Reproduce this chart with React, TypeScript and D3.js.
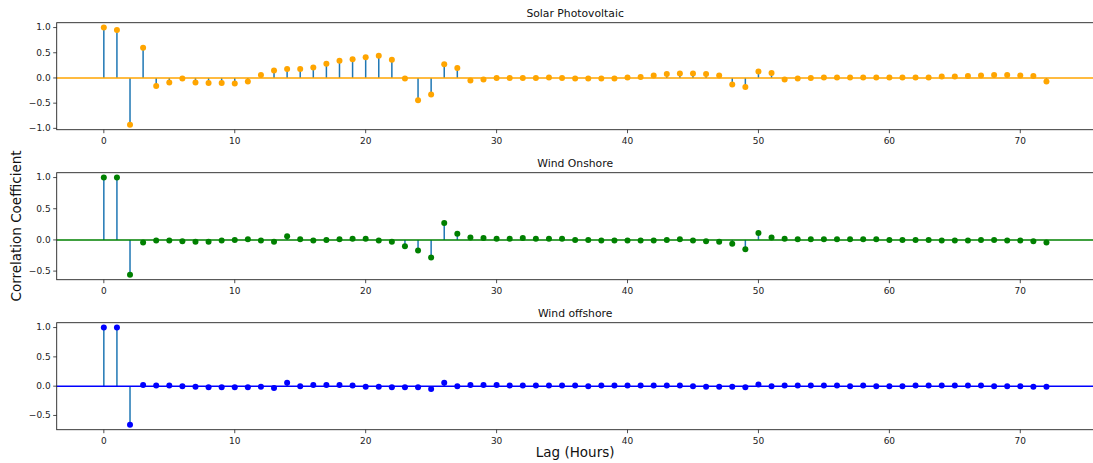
import * as d3 from 'd3'

const lags = d3.range(0, 73)

const titles = ['Solar Photovoltaic', 'Wind Onshore', 'Wind offshore']
const markerColors = ['orange', 'green', 'blue']

const solar = [
  1.0, 0.95, -0.93, 0.6, -0.16, -0.09, -0.01, -0.09, -0.1, -0.1,
  -0.11, -0.07, 0.06, 0.15, 0.18, 0.18, 0.21, 0.28, 0.34, 0.37,
  0.41, 0.44, 0.36, -0.01, -0.44, -0.33, 0.27, 0.2, -0.05, -0.03,
  0.0, 0.0, 0.0, 0.0, 0.01, 0.0, -0.01, -0.01, -0.01, -0.01,
  0.01, 0.02, 0.05, 0.08, 0.09, 0.09, 0.08, 0.05, -0.13, -0.18,
  0.13, 0.1, -0.03, -0.01, 0.0, 0.01, 0.01, 0.01, 0.01, 0.01,
  0.01, 0.01, 0.01, 0.01, 0.03, 0.03, 0.04, 0.05, 0.06, 0.06,
  0.05, 0.04, -0.07,
]

const onshore = [
  1.0, 1.0, -0.56, -0.04, -0.01, -0.01, -0.02, -0.03, -0.03, -0.01,
  0.0, 0.01, -0.01, -0.03, 0.06, 0.01, -0.01, 0.0, 0.01, 0.02,
  0.02, -0.01, -0.03, -0.1, -0.17, -0.28, 0.27, 0.1, 0.04, 0.03,
  0.02, 0.02, 0.03, 0.02, 0.02, 0.02, 0.0, 0.0, -0.01, -0.01,
  -0.01, -0.01, -0.01, 0.0, 0.01, -0.01, -0.02, -0.03, -0.06, -0.15,
  0.11, 0.04, 0.02, 0.01, 0.01, 0.01, 0.01, 0.01, 0.01, 0.01,
  0.0, 0.0, 0.0, 0.0, -0.01, -0.01, -0.01, 0.0, 0.0, -0.01,
  -0.01, -0.02, -0.04,
]

const offshore = [
  1.0, 1.0, -0.66, 0.02, 0.01, 0.01, 0.0, -0.01, -0.02, -0.02,
  -0.02, -0.02, -0.01, -0.03, 0.06, 0.0, 0.02, 0.02, 0.02, 0.01,
  -0.01, -0.01, -0.02, -0.02, -0.02, -0.05, 0.06, 0.0, 0.02, 0.02,
  0.02, 0.01, 0.01, 0.01, 0.01, 0.01, 0.01, 0.0, 0.01, 0.01,
  0.01, 0.01, 0.01, 0.01, 0.01, 0.0, -0.01, -0.01, -0.01, -0.02,
  0.03, 0.0, 0.01, 0.01, 0.01, 0.01, 0.01, 0.0, 0.01, 0.0,
  0.0, 0.0, 0.01, 0.01, 0.01, 0.01, 0.01, 0.01, 0.0, 0.0,
  0.0, -0.01, -0.01,
]

const series = [solar, onshore, offshore]
const xTicks = [0, 10, 20, 30, 40, 50, 60, 70]
const yTicks = [
  [-1.0, -0.5, 0.0, 0.5, 1.0],
  [-0.5, 0.0, 0.5, 1.0],
  [-0.5, 0.0, 0.5, 1.0],
]

const width = 1093
const height = 463
const left = 56.7
const right = 1093.6
const panelTops = [22.7, 172.7, 322.7]
const panelH = 107
const stemColor = '#1f77b4'
const font = 'DejaVu Sans, sans-serif'

// matplotlib style 5% margins
const pad = (lo: number, hi: number): [number, number] => {
  const m = (hi - lo) * 0.05
  return [lo - m, hi + m]
}

const fmt = (v: number) => v.toFixed(1).replace('-', '\u2212')

function Panel({ idx }: { idx: number }) {
  const data = series[idx]
  const top = panelTops[idx]
  const x = d3.scaleLinear(pad(0, 72), [left, right])
  const ext = d3.extent(data) as [number, number]
  const y = d3.scaleLinear(pad(ext[0], ext[1]), [top + panelH, top])
  const color = markerColors[idx]
  return (
    <g>
      <text
        x={(left + right) / 2}
        y={top - 6}
        textAnchor="middle"
        fontSize={10.8}
        fontFamily={font}
        fill="#111"
      >
        {titles[idx]}
      </text>
      <g stroke={stemColor} strokeWidth={1.5}>
        {lags.map((l) => (
          <line key={l} x1={x(l)} x2={x(l)} y1={y(0)} y2={y(data[l])} />
        ))}
      </g>
      <line x1={left} x2={right} y1={y(0)} y2={y(0)} stroke={color} strokeWidth={1.5} />
      <g fill={color}>
        {lags.map((l) => (
          <circle key={l} cx={x(l)} cy={y(data[l])} r={3} />
        ))}
      </g>
      <rect
        x={left}
        y={top}
        width={right - left}
        height={panelH}
        fill="none"
        stroke="#222"
        strokeWidth={0.9}
      />
      {yTicks[idx].map((t) => (
        <g key={t} transform={`translate(${left},${y(t)})`}>
          <line x1={-3.5} x2={0} stroke="#222" strokeWidth={0.8} />
          <text
            x={-6}
            dy="0.32em"
            textAnchor="end"
            fontSize={9}
            fontFamily={font}
            fill="#222"
          >
            {fmt(t)}
          </text>
        </g>
      ))}
      {xTicks.map((t) => (
        <g key={t} transform={`translate(${x(t)},${top + panelH})`}>
          <line y1={0} y2={3.5} stroke="#222" strokeWidth={0.8} />
          <text
            y={14}
            textAnchor="middle"
            fontSize={9}
            fontFamily={font}
            fill="#222"
          >
            {t}
          </text>
        </g>
      ))}
    </g>
  )
}

export default function App() {
  return (
    <svg
      width={width}
      height={height}
      style={{ position: 'absolute', left: 0, top: 0, background: '#fff' }}
    >
      {titles.map((_, i) => (
        <Panel key={i} idx={i} />
      ))}
      <text
        transform="translate(21,226) rotate(-90)"
        textAnchor="middle"
        fontSize={13.5}
        fontFamily={font}
        fill="#111"
      >
        Correlation Coefficient
      </text>
      <text
        x={(left + right) / 2}
        y={457}
        textAnchor="middle"
        fontSize={13.5}
        fontFamily={font}
        fill="#111"
      >
        Lag (Hours)
      </text>
    </svg>
  )
}
